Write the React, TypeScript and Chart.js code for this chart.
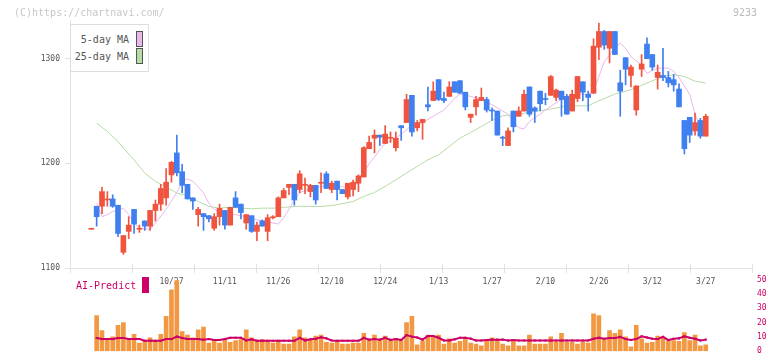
import React, { useEffect, useRef } from 'react';
import { Chart, registerables } from 'chart.js';

Chart.register(...registerables);

const FONT = '"DejaVu Sans Mono", monospace';

// ---- price data (candles, index 0..115) ----
const opens = [1137,1159,1159,1165,1166,1160,1115,1135,1156,1137, 1145,1140,1155,1161,1167,1189,1210,1192,1180,1167, 1151,1152,1150,1138,1149,1155,1141,1167,1161,1143, 1150,1135,1145,1135,1148,1149,1167,1177,1180,1175, 1179,1173,1179,1181,1190,1175,1183,1175,1168,1175, 1181,1187,1214,1224,1227,1219,1224,1215,1236,1239, 1265,1234,1239,1256,1260,1280,1262,1264,1278,1279, 1268,1244,1254,1260,1261,1251,1250,1225,1217,1250, 1245,1250,1273,1253,1269,1262,1265,1263,1269,1264, 1250,1262,1278,1266,1267,1311,1326,1310,1326,1277, 1301,1284,1251,1290,1314,1304,1282,1284,1282,1280, 1271,1241,1244,1231,1241,1226];
const highs = [1137,1159,1177,1173,1170,1160,1131,1149,1156,1141, 1145,1155,1165,1180,1195,1202,1227,1199,1180,1167, 1158,1152,1150,1152,1161,1155,1158,1173,1161,1151, 1150,1144,1146,1151,1150,1168,1176,1180,1180,1193, 1186,1180,1179,1191,1192,1183,1183,1175,1181,1184, 1189,1216,1226,1232,1227,1236,1230,1230,1236,1266, 1265,1241,1242,1273,1278,1280,1268,1278,1278,1279, 1268,1247,1264,1272,1263,1253,1250,1226,1234,1250, 1254,1270,1273,1254,1269,1267,1284,1271,1269,1266, 1270,1283,1278,1269,1319,1334,1327,1326,1326,1289, 1301,1294,1274,1304,1320,1304,1294,1310,1288,1285, 1276,1241,1244,1248,1243,1247];
const lows = [1137,1140,1152,1159,1158,1130,1113,1128,1133,1134, 1136,1136,1145,1155,1160,1182,1188,1172,1166,1156, 1140,1136,1144,1136,1141,1137,1141,1158,1147,1137, 1134,1126,1140,1126,1147,1149,1167,1170,1160,1172, 1171,1168,1161,1172,1176,1172,1165,1171,1166,1169, 1173,1187,1214,1210,1217,1219,1220,1212,1222,1239, 1226,1231,1223,1250,1260,1260,1258,1264,1268,1267, 1251,1239,1246,1260,1249,1241,1227,1217,1217,1230, 1245,1250,1245,1239,1250,1256,1265,1260,1245,1247, 1250,1259,1260,1250,1267,1299,1309,1296,1304,1245, 1275,1273,1246,1283,1300,1289,1271,1279,1273,1269, 1254,1209,1220,1227,1224,1226];
const closes = [1137,1149,1173,1166,1159,1133,1131,1141,1142,1138, 1140,1155,1161,1176,1182,1201,1191,1179,1166,1164, 1156,1149,1147,1149,1157,1141,1158,1158,1153,1151, 1135,1141,1140,1148,1149,1167,1174,1180,1165,1190, 1180,1179,1165,1181,1176,1181,1175,1171,1181,1182, 1188,1215,1220,1227,1225,1228,1224,1224,1234,1261, 1230,1239,1242,1254,1269,1261,1260,1273,1268,1267, 1254,1247,1261,1263,1251,1250,1227,1224,1231,1235, 1250,1266,1247,1250,1257,1261,1283,1270,1261,1247, 1266,1283,1268,1263,1312,1326,1313,1326,1304,1269, 1290,1292,1274,1295,1300,1292,1287,1282,1277,1275, 1254,1214,1227,1239,1226,1245];

// moving averages: [candle index, value]
const ma5Points: [number, number][] = [[1,1162],[2,1149],[3,1151],[4,1154],[6,1157],[7,1151],[8,1143],[9,1138],[11,1137],[12,1143],[14,1156],[16,1172],[17,1183],[18,1185],[19,1183],[21,1172],[22,1162],[23,1156],[25,1151],[27,1151],[29,1149],[31,1146],[32,1145],[34,1143],[35,1142],[36,1148],[37,1156],[38,1165],[39,1172],[41,1176],[43,1178],[46,1179],[48,1176],[50,1181],[51,1191],[52,1200],[53,1206],[54,1213],[55,1219],[57,1224],[59,1232],[60,1237],[62,1239],[64,1245],[66,1251],[68,1262],[69,1266],[71,1264],[73,1261],[75,1256],[77,1250],[78,1247],[79,1240],[80,1234],[81,1233],[82,1240],[84,1247],[85,1251],[87,1258],[89,1264],[91,1266],[93,1266],[94,1269],[95,1283],[96,1297],[98,1310],[99,1315],[100,1310],[101,1302],[103,1294],[104,1286],[105,1289],[106,1291],[108,1291],[109,1288],[110,1282],[112,1266],[113,1247],[114,1234],[115,1232]];
const ma25Points: [number, number][] = [[1,1238.5],[3,1230.5],[5,1221],[6,1214.6],[8,1203.4],[10,1190.7],[12,1182.7],[14,1177.3],[16,1171.6],[18,1169],[20,1163.6],[22,1158.8],[24,1157.2],[26,1158],[28,1157.2],[30,1156.6],[32,1157.2],[34,1157.2],[36,1158],[39,1159],[43,1158.8],[46,1160.4],[49,1163.6],[51,1168.4],[53,1172.2],[55,1178],[57,1184.3],[59,1190.7],[61,1197.1],[63,1203.4],[65,1208.2],[67,1216.2],[69,1224.1],[71,1229.5],[73,1235.3],[75,1241],[77,1245.5],[79,1246.5],[80,1247],[83,1249.6],[86,1251.9],[89,1255],[93,1255],[95,1259.8],[98,1266.2],[101,1270.4],[104,1276.7],[107,1283.1],[109,1284.7],[111,1283.1],[113,1278.5],[115,1276.7]];

// ---- lower panel ----
const volume = [null,25,14.4,8.5,10,18.1,20,9,11.9,5.6, 7.1,9.4,7.1,11.9,24.4,43,49.4,13.75,11.25,9.4, 15,16.9,5.6,7.5,5.6,8.1,6.25,7.5,8.1,15, 9.4,7.5,8.1,7.1,5.6,7.1,5,5,10,15, 9.4,7.5,10.6,11.25,6.25,5.6,7.1,5,5,5.6, 5.6,12.5,8.1,11.25,7.5,10.6,7.5,9,7.1,20, 24.4,4.4,7.1,11.25,10,11.25,5,8.75,5.6,6.9, 9.4,5.6,5,3.75,7.5,9.4,7.5,5,3.75,7.5, 3.75,3.75,11.25,5,5,5,10,6.25,12.5,6.25, 6.25,5,6.25,5.6,26.25,25,8.1,14.4,12.5,15, 10,3.1,18.1,8.75,5.6,6.25,10.6,10,6.9,7.5, 6.9,13.1,7.5,11.25,3.75,4.4];
const aiPredict = [null,9.2,8.5,8.5,8.5,9.2,9.2,8.5,8.5,8.5, 7.3,7.3,7.3,7.3,8.5,8.5,10.2,9.2,8.5,8.5, 8.5,8.1,8.5,7.8,7.8,8.5,9.4,9.4,9.4,7.5, 8.3,7.3,7.3,7.3,7.3,7.3,7.3,7.3,7.3,9.4, 7.5,8.3,8.75,9.8,9.0,7.5,7.3,7.3,7.3,7.3, 7.3,9.4,8.1,8.5,8.1,9.4,7.9,8.5,7.8,11.25, 10.2,9.6,8.1,10.6,10.6,9.4,7.5,7.5,8.3,9.4, 9.4,8.8,7.5,7.5,7.8,8.1,8.1,8.1,7.5,7.8, 7.5,7.5,7.5,7.5,7.5,7.5,7.5,7.5,7.5,7.5, 7.5,7.5,7.5,7.5,8.75,9.4,8.75,9.2,9.2,10, 8.5,7.8,8.5,10.4,9.6,8.75,8.5,10,7.8,8.75, 9,10.4,9.4,8.75,7.5,8.1];

// ---- ticks ----
const tickIdx = [15,25,35,45,55,65,75,85,95,105,115];
const tickLabels = ['10/27','11/11','11/26','12/10','12/24','1/13','1/27','2/10','2/26','3/12','3/27'];
const priceTicks = [1100,1200,1300];
const aiTicks = [0,10,20,30,40,50];

const X_MIN = -3.99;
const X_MAX = 123.66;
const RED = '#f0543f';
const BLUE = '#3f7ff0';
const AXIS = '#e2e2e2';

const xTickMarks = {
  id: 'xTickMarks',
  afterDraw(chart: any) {
    const { ctx, chartArea } = chart;
    ctx.save();
    ctx.strokeStyle = AXIS;
    ctx.lineWidth = 1;
    const n = 11;
    for (let k = 0; k <= n; k++) {
      const x = Math.round(chartArea.left + (k * (chartArea.right - chartArea.left)) / n) + 0.5;
      ctx.beginPath();
      ctx.moveTo(x, chartArea.bottom - 4);
      ctx.lineTo(x, chartArea.bottom + 5);
      ctx.stroke();
    }
    ctx.restore();
  },
};

export default function App() {
  const topRef = useRef<HTMLCanvasElement>(null);
  const botRef = useRef<HTMLCanvasElement>(null);

  useEffect(() => {
    const colors = closes.map((c, i) => (c >= opens[i] ? RED : BLUE));
    const top = new Chart(topRef.current as HTMLCanvasElement, {
      type: 'bar',
      data: {
        datasets: [
          {
            type: 'line',
            data: ma25Points.map(([x, y]) => ({ x, y })),
            borderColor: '#b6dca6',
            borderWidth: 1,
            pointRadius: 0,
            order: 4,
          } as any,
          {
            type: 'line',
            data: ma5Points.map(([x, y]) => ({ x, y })),
            borderColor: '#ebb6ec',
            borderWidth: 1,
            pointRadius: 0,
            order: 3,
          } as any,
          {
            type: 'bar',
            data: lows.map((l, i) => ({ x: i, y: [l, highs[i]] })),
            backgroundColor: colors,
            barThickness: 1,
            grouped: false,
            minBarLength: 1,
            order: 2,
          } as any,
          {
            type: 'bar',
            data: opens.map((o, i) => ({ x: i, y: [o, closes[i]] })),
            backgroundColor: colors,
            barThickness: 5,
            grouped: false,
            minBarLength: 1,
            order: 1,
          } as any,
        ],
      },
      options: {
        animation: false,
        responsive: false,
        events: [],
        layout: { padding: { top: 20, right: 20, left: 0, bottom: 0 } },
        plugins: { legend: { display: false }, tooltip: { enabled: false } },
        scales: {
          x: {
            type: 'linear',
            min: X_MIN,
            max: X_MAX,
            offset: false,
            grid: { display: false, drawTicks: false, offset: false },
            border: { display: true, color: AXIS },
            afterBuildTicks: (s: any) => {
              s.ticks = tickIdx.map((v) => ({ value: v }));
            },
            afterFit: (s: any) => {
              s.height = 22;
            },
            ticks: {
              autoSkip: false,
              maxRotation: 0,
              padding: 9,
              color: '#555',
              font: { family: FONT, size: 8 },
              callback: (_v: any, i: number) => tickLabels[i],
            },
          },
          y: {
            type: 'linear',
            min: 1100,
            max: 1337,
            grid: { display: true, drawOnChartArea: false, drawTicks: true, tickLength: 5, color: AXIS },
            border: { display: true, color: AXIS },
            afterBuildTicks: (s: any) => {
              s.ticks = priceTicks.map((v) => ({ value: v }));
            },
            afterFit: (s: any) => {
              s.width = 70;
            },
            ticks: {
              padding: 5,
              color: '#555',
              font: { family: FONT, size: 8 },
              callback: (v: any) => String(v),
            },
          },
        },
      },
      plugins: [xTickMarks],
    } as any);

    const bot = new Chart(botRef.current as HTMLCanvasElement, {
      type: 'bar',
      data: {
        datasets: [
          {
            type: 'line',
            data: aiPredict.map((v, i) => ({ x: i, y: v })),
            borderColor: '#cc0066',
            backgroundColor: '#cc0066',
            borderWidth: 2,
            pointStyle: 'rect',
            pointRadius: 1.5,
            pointBorderWidth: 0,
            order: 1,
          } as any,
          {
            type: 'bar',
            data: volume.map((v, i) => ({ x: i, y: v })),
            backgroundColor: '#f29842',
            barThickness: 4,
            grouped: false,
            order: 2,
          } as any,
        ],
      },
      options: {
        animation: false,
        responsive: false,
        events: [],
        layout: { padding: { top: 8, right: 0, left: 70, bottom: 3 } },
        plugins: { legend: { display: false }, tooltip: { enabled: false } },
        scales: {
          x: {
            type: 'linear',
            min: X_MIN,
            max: X_MAX,
            offset: false,
            display: false,
            grid: { offset: false },
          },
          y: {
            type: 'linear',
            position: 'right',
            min: 0,
            max: 50,
            grid: { display: false, drawTicks: false },
            border: { display: false },
            afterBuildTicks: (s: any) => {
              s.ticks = aiTicks.map((v) => ({ value: v }));
            },
            afterFit: (s: any) => {
              s.width = 20;
            },
            ticks: {
              padding: 5,
              color: '#cc0066',
              font: { family: FONT, size: 8 },
              callback: (v: any) => String(v),
            },
          },
        },
      },
    } as any);

    return () => {
      top.destroy();
      bot.destroy();
    };
  }, []);

  const abs = (o: any) => ({ position: 'absolute' as const, ...o });

  return (
    <div style={{ position: 'absolute', left: 0, top: 0, width: 772, height: 361, background: '#fff', overflow: 'hidden', fontFamily: FONT }}>
      <canvas ref={topRef} width={772} height={290} style={abs({ left: 0, top: 0, width: 772, height: 290 })} />
      <canvas ref={botRef} width={772} height={91} style={abs({ left: 0, top: 270, width: 772, height: 91 })} />
      <div style={abs({ left: 14, top: 6, fontSize: 10, lineHeight: '13px', color: '#c8c8c8', whiteSpace: 'nowrap' })}>(C)https://chartnavi.com/</div>
      <div style={abs({ left: 700, width: 57, top: 6, fontSize: 10, lineHeight: '13px', color: '#bbb', textAlign: 'right' })}>9233</div>
      <div style={abs({ left: 70, top: 24, width: 79, height: 48, border: '1px solid #ddd', boxSizing: 'border-box', background: '#fff' })} />
      <div style={abs({ left: 70, width: 59, top: 33, fontSize: 10, lineHeight: '13px', color: '#555', textAlign: 'right', whiteSpace: 'nowrap' })}>5-day MA</div>
      <div style={abs({ left: 136, top: 31, width: 7, height: 16, border: '1px solid #555', boxSizing: 'border-box', background: '#ebb6ec' })} />
      <div style={abs({ left: 70, width: 59, top: 50, fontSize: 10, lineHeight: '13px', color: '#555', textAlign: 'right', whiteSpace: 'nowrap' })}>25-day MA</div>
      <div style={abs({ left: 136, top: 48, width: 7, height: 16, border: '1px solid #555', boxSizing: 'border-box', background: '#b6dca6' })} />
      <div style={abs({ left: 76, top: 279, fontSize: 10, lineHeight: '13px', color: '#cc0066', whiteSpace: 'nowrap' })}>AI-Predict</div>
      <div style={abs({ left: 142, top: 277, width: 7, height: 16, background: '#cc0066' })} />
    </div>
  );
}
